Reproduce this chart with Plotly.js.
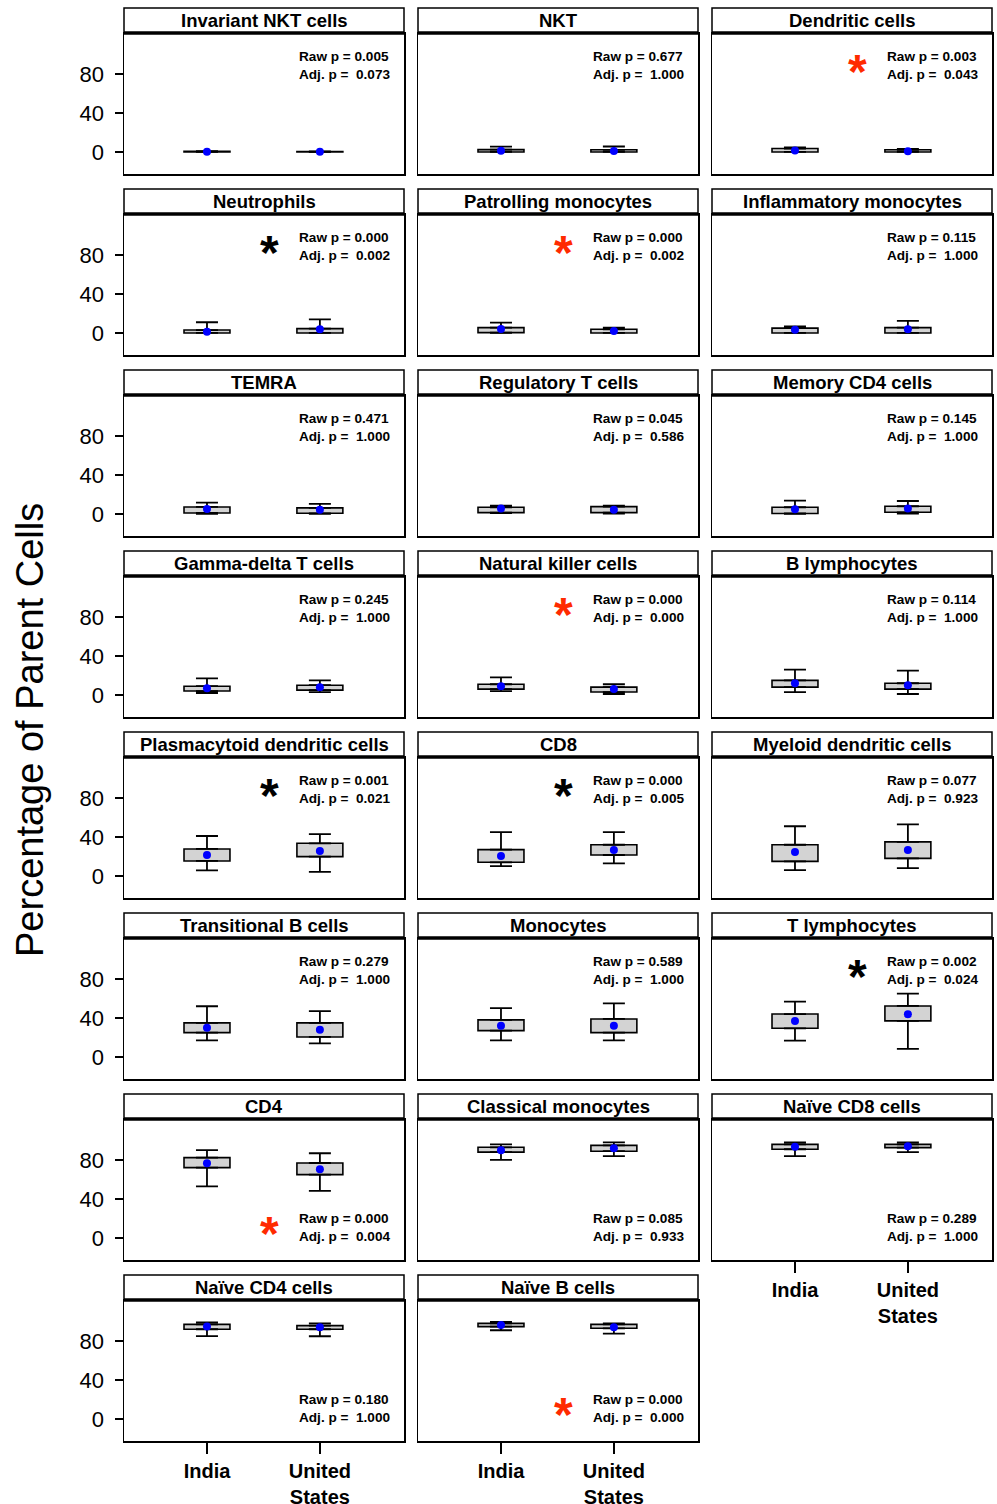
<!DOCTYPE html>
<html>
<head>
<meta charset="utf-8">
<script src="https://cdn.plot.ly/plotly-3.0.1.min.js"></script>
<style>html,body{margin:0;padding:0;background:#fff;}</style>
</head>
<body>
<div id="chart" style="width:997px;height:1504px;"></div>
<script>
// ---------- data ----------
const groups = ['India', 'United States'];
const groupTickText = ['India', 'United<br>States'];
const panelTitles = ['Invariant NKT cells','NKT','Dendritic cells','Neutrophils','Patrolling monocytes','Inflammatory monocytes','TEMRA','Regulatory T cells','Memory CD4 cells','Gamma-delta T cells','Natural killer cells','B lymphocytes','Plasmacytoid dendritic cells','CD8','Myeloid dendritic cells','Transitional B cells','Monocytes','T lymphocytes','CD4','Classical monocytes','Naïve CD8 cells','Naïve CD4 cells','Naïve B cells'];
const rawP = ['0.005','0.677','0.003','0.000','0.000','0.115','0.471','0.045','0.145','0.245','0.000','0.114','0.001','0.000','0.077','0.279','0.589','0.002','0.000','0.085','0.289','0.180','0.000'];
const adjP = ['0.073','1.000','0.043','0.002','0.002','1.000','1.000','0.586','1.000','1.000','0.000','1.000','0.021','0.005','0.923','1.000','1.000','0.024','0.004','0.933','1.000','1.000','0.000'];
// significant difference: which group is higher ('' = not flagged)
const higherGroup = ['','','India','United States','India','','','','','','India','','United States','United States','','','','United States','India','','','','India'];

const indiaLow  = [0,   0,   0,   0,   0,   0,   0,   1,   0,   2,  4,  3,  5.8, 10,   6,   17, 17, 16.7, 53,   80, 84,   85,   91];
const indiaQ1   = [0,   0,   0,   0,   0.3, 0,   1,   1.4, 0.5, 4,  6,  8,  15.4, 14,  15,  25, 27, 29.4, 72.1, 88, 91,   92,   94.7];
const indiaMid  = [0.3, 1.2, 1.5, 1.3, 4,   3.4, 5.1, 5.5, 4.8, 7,  9,  12, 21.5, 20.5,24.6,30, 32, 37,   76.6, 90, 93.6, 94.7, 96.4];
const indiaQ3   = [0.6, 2.4, 3.5, 3,   5.5, 5,   7.2, 6.9, 6.9, 9,  11, 15, 27.7, 27,  32,  35, 38, 44,   82.4, 93, 96,   97,   98];
const indiaHigh = [0.8, 5.4, 4.8, 11,  10.6,6.8, 11.6,8.5, 13.6,17, 18, 26, 41,   45,  51,  52, 50, 56.7, 90,   96, 98,   99,   99.5];

const usLow  = [0,   0,   0,   0,   0,   0,   0,   0.5, 0.5, 3,  1,  1,  4.1,  13,   8,   14,   17, 8.2,  48.2, 84, 88,   84.8, 87.5];
const usQ1   = [0,   0,   0,   0,   0,   0,   0.7, 1.4, 1.7, 5,  3,  6,  19.8, 21.5, 18,  20.5, 25, 37,   65,   89, 92.6, 92,   93];
const usMid  = [0.3, 1.0, 0.8, 3.8, 2,   3.8, 4.4, 4.4, 5.5, 8,  6,  10, 25.6, 26.7, 26.7,28,   32, 43.8, 70.4, 92, 94,   94,   94];
const usQ3   = [0.5, 2.2, 2.2, 4.4, 3.8, 5.5, 6.2, 7.5, 7.9, 10, 8,  12, 33.5, 32,   35,  35,   39, 52.3, 76.9, 95, 96,   95.7, 97];
const usHigh = [0.7, 5.6, 3.2, 14,  5.5, 12.3,10.3,8.5, 13.3,15, 11, 25, 43,   45,   53,  47,   55, 64.9, 86.9, 98, 98,   98,   98];

const yTicks = [0, 40, 80];

// ---------- layout geometry ----------
const W = 997, H = 1504;
const FONT = 'Liberation Sans, Arial, Helvetica, sans-serif';
const colLeft = [124, 418, 712], panelW = 280;
const rowPitch = 181, plotTop0 = 33, plotBot0 = 174;
const stripH = 25;
const nCols = 3;
const nPanels = panelTitles.length;

const traces = [];
const shapes = [];
const annotations = [];
const layout = {
  width: W, height: H,
  margin: {l: 0, r: 0, t: 0, b: 0},
  paper_bgcolor: '#fff', plot_bgcolor: '#fff',
  showlegend: false,
  barmode: 'overlay',
  font: {family: FONT, color: '#000'},
  hovermode: false
};

for (let i = 0; i < nPanels; i++) {
  const r = Math.floor(i / nCols), c = i % nCols;
  const n = i === 0 ? '' : String(i + 1);
  const xa = 'x' + n, ya = 'y' + n;
  const top = plotTop0 + rowPitch * r, bot = plotBot0 + rowPitch * r;
  const isBottom = (i + nCols >= nPanels);
  const isLeft = c === 0;

  layout['xaxis' + n] = {
    domain: [colLeft[c] / W, (colLeft[c] + panelW) / W],
    anchor: ya, range: [0.265, 2.745],
    showgrid: false, zeroline: false,
    showline: true, mirror: true, linecolor: '#000', linewidth: 1.5,
    tickvals: isBottom ? [1, 2] : [],
    ticktext: isBottom ? groupTickText : [],
    ticks: isBottom ? 'outside' : '', ticklen: 11, tickwidth: 1.5, tickcolor: '#000',
    showticklabels: isBottom,
    tickfont: {family: FONT, size: 20, weight: 'bold', color: '#000'},
    ticklabelstandoff: 0,
    automargin: false, fixedrange: true
  };
  layout['yaxis' + n] = {
    domain: [1 - bot / H, 1 - top / H],
    anchor: xa, range: [-22.6, 122],
    showgrid: false, zeroline: false,
    showline: true, mirror: true, linecolor: '#000', linewidth: 1.5,
    tickvals: isLeft ? yTicks : [],
    ticks: isLeft ? 'outside' : '', ticklen: 8, tickwidth: 1.5, tickcolor: '#000',
    showticklabels: isLeft,
    tickfont: {family: FONT, size: 22, color: '#000'},
    ticklabelstandoff: 6,
    automargin: false, fixedrange: true
  };

  const q1 = [indiaQ1[i], usQ1[i]], q3 = [indiaQ3[i], usQ3[i]];
  const lo = [indiaLow[i], usLow[i]], hi = [indiaHigh[i], usHigh[i]];
  const mid = [indiaMid[i], usMid[i]];
  const pos = [1, 2];

  // boxes (q1..q3)
  traces.push({
    type: 'bar', x: pos, base: q1, y: q3.map((v, k) => v - q1[k]),
    width: 0.407, xaxis: xa, yaxis: ya,
    marker: {color: '#D3D3D3', line: {color: '#000', width: 1.6}},
    hoverinfo: 'skip'
  });
  // upper whiskers
  traces.push({
    type: 'scatter', mode: 'markers', x: pos, y: q3, xaxis: xa, yaxis: ya,
    marker: {size: 0.1, color: 'rgba(0,0,0,0)'},
    error_y: {type: 'data', symmetric: false, array: hi.map((v, k) => v - q3[k]), arrayminus: [0, 0],
              width: 11, thickness: 1.8, color: '#000'},
    hoverinfo: 'skip'
  });
  // lower whiskers
  traces.push({
    type: 'scatter', mode: 'markers', x: pos, y: q1, xaxis: xa, yaxis: ya,
    marker: {size: 0.1, color: 'rgba(0,0,0,0)'},
    error_y: {type: 'data', symmetric: false, array: [0, 0], arrayminus: q1.map((v, k) => v - lo[k]),
              width: 11, thickness: 1.8, color: '#000'},
    hoverinfo: 'skip'
  });
  // centre dots
  traces.push({
    type: 'scatter', mode: 'markers', x: pos, y: mid, xaxis: xa, yaxis: ya,
    marker: {size: 8, color: '#0000FF'},
    hoverinfo: 'skip'
  });

  // strip
  shapes.push({type: 'rect', xref: xa + ' domain', yref: ya + ' domain',
    x0: 0, x1: 1, y0: 1, y1: 1 + stripH / (bot - top),
    fillcolor: '#fff', line: {color: '#000', width: 1.5}, layer: 'above'});
  shapes.push({type: 'line', xref: xa + ' domain', yref: ya + ' domain',
    x0: 0, x1: 1, y0: 1, y1: 1, line: {color: '#000', width: 3.5}, layer: 'above'});
  annotations.push({xref: xa + ' domain', yref: ya + ' domain', x: 0.5, y: 1 + (stripH / 2) / (bot - top),
    text: panelTitles[i], showarrow: false, xanchor: 'center', yanchor: 'middle',
    font: {family: FONT, size: 18.5, weight: 'bold', color: '#000'}});

  // p-values: placed low when the data sit high
  const maxVal = Math.max(indiaHigh[i], usHigh[i]);
  const pY = maxVal > 70 ? 0.227 : 0.773;
  annotations.push({xref: xa + ' domain', yref: ya + ' domain', x: 0.618, y: pY,
    text: 'Raw p = ' + rawP[i] + '<br>Adj. p =\u00A0\u00A0' + adjP[i],
    showarrow: false, xanchor: 'left', yanchor: 'middle', align: 'left',
    font: {family: FONT, size: 13.6, weight: 'bold', color: '#000'}});

  if (higherGroup[i]) {
    annotations.push({xref: xa + ' domain', yref: ya + ' domain', x: 0.52, y: pY,
      text: '*', showarrow: false, xanchor: 'center', yanchor: 'middle', yshift: -6,
      font: {family: FONT, size: 48, weight: 'bold',
             color: higherGroup[i] === 'India' ? '#FF2A00' : '#000'}});
  }
}

annotations.push({xref: 'paper', yref: 'paper', x: 30 / W, y: 1 - 730 / H,
  text: 'Percentage of Parent Cells', textangle: -90, showarrow: false,
  xanchor: 'center', yanchor: 'middle', font: {family: FONT, size: 38, color: '#000'}});

layout.shapes = shapes;
layout.annotations = annotations;

Plotly.newPlot('chart', traces, layout, {displayModeBar: false, staticPlot: true});
</script>
</body>
</html>
